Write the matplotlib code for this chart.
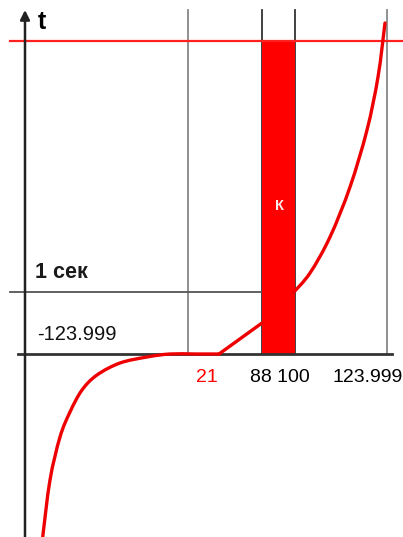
import numpy as np
import matplotlib.pyplot as plt
from matplotlib.path import Path
from matplotlib.patches import PathPatch

# кривая t(x), схематично: нижняя ветвь, пологий участок, подъём до бруска, верхняя ветвь
low_x = [17.7, 25, 35, 45, 57, 72, 95, 122, 145, 170, 194]
low_y = [-183, -126, -83, -58, -36, -21, -9, -3, 0, 0, 0]
ramp_x = [194, 237]
ramp_y = [0, 31]
up_x = [268, 285, 305, 325, 342, 353, 360]
up_y = [61, 81, 117, 167, 224, 277, 331]

grid_x = [163, 237, 270, 362]
bar_x0, bar_x1 = 237, 270
t_max = 313     # красная горизонталь
t_one = 62      # "1 сек"

tick_labels = [(182, '21', 'red'), (255, '88 100', 'black'), (343, '123.999', 'black')]


def smooth_path(xs, ys):
    # плавная кривая через точки (Catmull-Rom -> кубические Безье)
    p = np.column_stack([xs, ys]).astype(float)
    pts = [p[0]]
    codes = [Path.MOVETO]
    for i in range(len(p) - 1):
        p0 = p[i - 1] if i > 0 else p[i]
        p3 = p[i + 2] if i + 2 < len(p) else p[i + 1]
        c1 = p[i] + (p[i + 1] - p0) / 6
        c2 = p[i + 1] - (p3 - p[i]) / 6
        pts += [c1, c2, p[i + 1]]
        codes += [Path.CURVE4] * 3
    return Path(pts, codes)


fig = plt.figure(figsize=(4.03, 5.37), dpi=100)
ax = fig.add_axes([0, 0, 1, 1])
ax.set_xlim(-25, 378)
ax.set_ylim(-183, 354)
ax.axis('off')

# вертикальные линии
for gx in grid_x:
    c = '#333333' if gx in (bar_x0, bar_x1) else '#888888'
    ax.plot([gx, gx], [0, 344], color=c, lw=1.3, zorder=1)

# брусок К
ax.fill_between([bar_x0, bar_x1], 0, t_max, color='#ff0000', lw=0, zorder=2)
ax.text(255, 148, 'К', color='#ffeeee', fontsize=10.5, fontweight='bold',
        ha='center', va='center', family='Liberation Sans', zorder=5)

# горизонтали
ax.plot([-15, 378], [t_max, t_max], color='#ff2020', lw=1.6, zorder=3)
ax.plot([-15, 270], [t_one, t_one], color='#555555', lw=1.3, zorder=1)
ax.plot([-7, 367], [0, 0], color='#333333', lw=2, zorder=3)

# ось t
ax.annotate('', xy=(0, 344), xytext=(0, -183),
            arrowprops=dict(arrowstyle='-|>', color='#222222', lw=1.8,
                            mutation_scale=14, shrinkA=0, shrinkB=0), zorder=4)

# кривая
for xs, ys in [(low_x, low_y), (ramp_x, ramp_y), (up_x, up_y)]:
    ax.add_patch(PathPatch(smooth_path(xs, ys), fill=False, edgecolor='#ee0000',
                           lw=2.4, capstyle='round', zorder=4))

# подписи
font = 'Liberation Sans'
ax.text(13, 332, 't', fontsize=18, fontweight='bold', family=font, va='center')
ax.text(10, 81, '1 сек', fontsize=15.5, fontweight='bold', family=font, va='center',
        color='#1a1a1a')
ax.text(12, 20, '-123.999', fontsize=14.5, family=font, va='center', color='#111111')
for x, s, c in tick_labels:
    ax.text(x, -24, s, fontsize=14, family=font, color=c, ha='center', va='center')

fig.savefig('out.png', dpi=100)
